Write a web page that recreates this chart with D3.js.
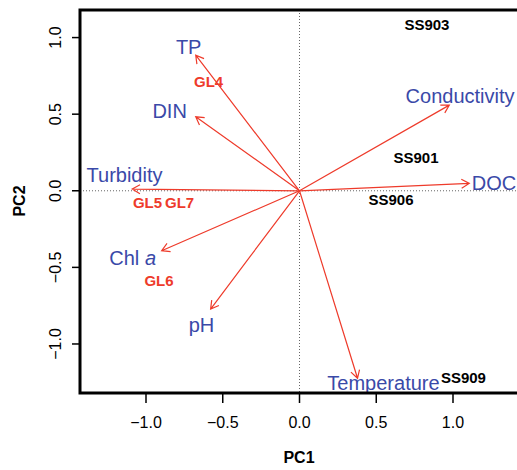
<!DOCTYPE html>
<html>
<head>
<meta charset="utf-8">
<script src="https://cdn.jsdelivr.net/npm/d3@7"></script>
<style>
  html, body { margin: 0; padding: 0; background: #fff; }
  svg { display: block; }
</style>
</head>
<body>
<script>
// ---- data ----
const variables = ["TP", "DIN", "Turbidity", "Chl a", "pH", "Temperature", "Conductivity", "DOC"];
const loadPC1 = [-0.676, -0.676, -1.090, -0.898, -0.579, 0.378, 0.976, 1.106];
const loadPC2 = [0.885, 0.483, 0.011, -0.391, -0.772, -1.224, 0.559, 0.048];
const varLabelPC1 = [-0.722, -0.846, -1.140, -1.087, -0.639, 0.547, 1.046, 1.267];
const varLabelPC2 = [0.943, 0.519, 0.106, -0.438, -0.873, -1.253, 0.617, 0.052];

const samples = ["SS903", "SS901", "SS906", "SS909", "GL4", "GL5", "GL7", "GL6"];
const scorePC1 = [0.830, 0.759, 0.596, 1.068, -0.592, -0.990, -0.781, -0.915];
const scorePC2 = [1.083, 0.216, -0.058, -1.217, 0.710, -0.080, -0.080, -0.586];
const sampleGroup = ["SS", "SS", "SS", "SS", "GL", "GL", "GL", "GL"];

const xTicks = [-1.0, -0.5, 0.0, 0.5, 1.0];
const yTicks = [-1.0, -0.5, 0.0, 0.5, 1.0];

// ---- layout ----
const W = 517, H = 470;
const mLeft = 80, mRight = 519, mTop = 10, mBottom = 393;
const font = "'Liberation Sans', Arial, Helvetica, sans-serif";
const red = "#ee3b2b", blue = "#3a49a8";

const x = d3.scaleLinear().domain([-1.43, 1.43]).range([mLeft, mRight]);
const y = d3.scaleLinear().domain([-1.32, 1.18]).range([mBottom, mTop]);

const svg = d3.select("body").append("svg").attr("width", W).attr("height", H)
  .style("font-family", font);

const fmt = v => (v < 0 ? "\u2212" : "") + Math.abs(v).toFixed(1);

// zero lines (dotted)
svg.append("line").attr("x1", x(0)).attr("x2", x(0)).attr("y1", mTop).attr("y2", mBottom)
  .attr("stroke", "#666").attr("stroke-width", 1).attr("stroke-dasharray", "1,2");
svg.append("line").attr("x1", mLeft).attr("x2", mRight).attr("y1", y(0)).attr("y2", y(0))
  .attr("stroke", "#666").attr("stroke-width", 1).attr("stroke-dasharray", "1,2");

// arrows
const hl = 9, ang = Math.PI / 6;
variables.forEach((v, i) => {
  const x0 = x(0), y0 = y(0), x1 = x(loadPC1[i]), y1 = y(loadPC2[i]);
  const a = Math.atan2(y1 - y0, x1 - x0);
  const p = d3.path();
  p.moveTo(x0, y0); p.lineTo(x1, y1);
  p.moveTo(x1 - hl * Math.cos(a - ang), y1 - hl * Math.sin(a - ang));
  p.lineTo(x1, y1);
  p.lineTo(x1 - hl * Math.cos(a + ang), y1 - hl * Math.sin(a + ang));
  svg.append("path").attr("d", p.toString()).attr("fill", "none")
    .attr("stroke", red).attr("stroke-width", 1.2);
});

// variable labels
variables.forEach((v, i) => {
  const t = svg.append("text").attr("x", x(varLabelPC1[i])).attr("y", y(varLabelPC2[i]))
    .attr("dy", "0.36em").attr("text-anchor", "middle").attr("font-size", 20)
    .attr("fill", blue);
  if (v === "Chl a") {
    t.append("tspan").text("Chl ");
    t.append("tspan").attr("font-style", "italic").text("a");
  } else {
    t.text(v);
  }
});

// sample labels
samples.forEach((s, i) => {
  svg.append("text").attr("x", x(scorePC1[i])).attr("y", y(scorePC2[i]))
    .attr("dy", "0.36em").attr("text-anchor", "middle").attr("font-size", 15)
    .attr("font-weight", "bold").attr("fill", sampleGroup[i] === "GL" ? red : "#000")
    .text(s);
});

// frame
svg.append("rect").attr("x", mLeft).attr("y", mTop).attr("width", mRight - mLeft).attr("height", mBottom - mTop)
  .attr("fill", "none").attr("stroke", "#000").attr("stroke-width", 3);

// x axis ticks
const xa = svg.append("g");
xTicks.forEach(t => {
  xa.append("line").attr("x1", x(t)).attr("x2", x(t)).attr("y1", mBottom).attr("y2", mBottom + 10)
    .attr("stroke", "#000").attr("stroke-width", 1.5);
  xa.append("text").attr("x", x(t)).attr("y", 428).attr("text-anchor", "middle")
    .attr("font-size", 16).text(fmt(t));
});
// y axis ticks
const ya = svg.append("g");
yTicks.forEach(t => {
  ya.append("line").attr("x1", mLeft).attr("x2", mLeft - 8).attr("y1", y(t)).attr("y2", y(t))
    .attr("stroke", "#000").attr("stroke-width", 1.5);
  ya.append("text").attr("transform", `translate(60.5,${y(t)}) rotate(-90)`)
    .attr("text-anchor", "middle").attr("font-size", 16).text(fmt(t));
});

// axis titles
svg.append("text").attr("x", 299).attr("y", 463).attr("text-anchor", "middle")
  .attr("font-size", 16).attr("font-weight", "bold").text("PC1");
svg.append("text").attr("transform", `translate(24.5,201) rotate(-90)`).attr("text-anchor", "middle")
  .attr("font-size", 16).attr("font-weight", "bold").text("PC2");
</script>
</body>
</html>
